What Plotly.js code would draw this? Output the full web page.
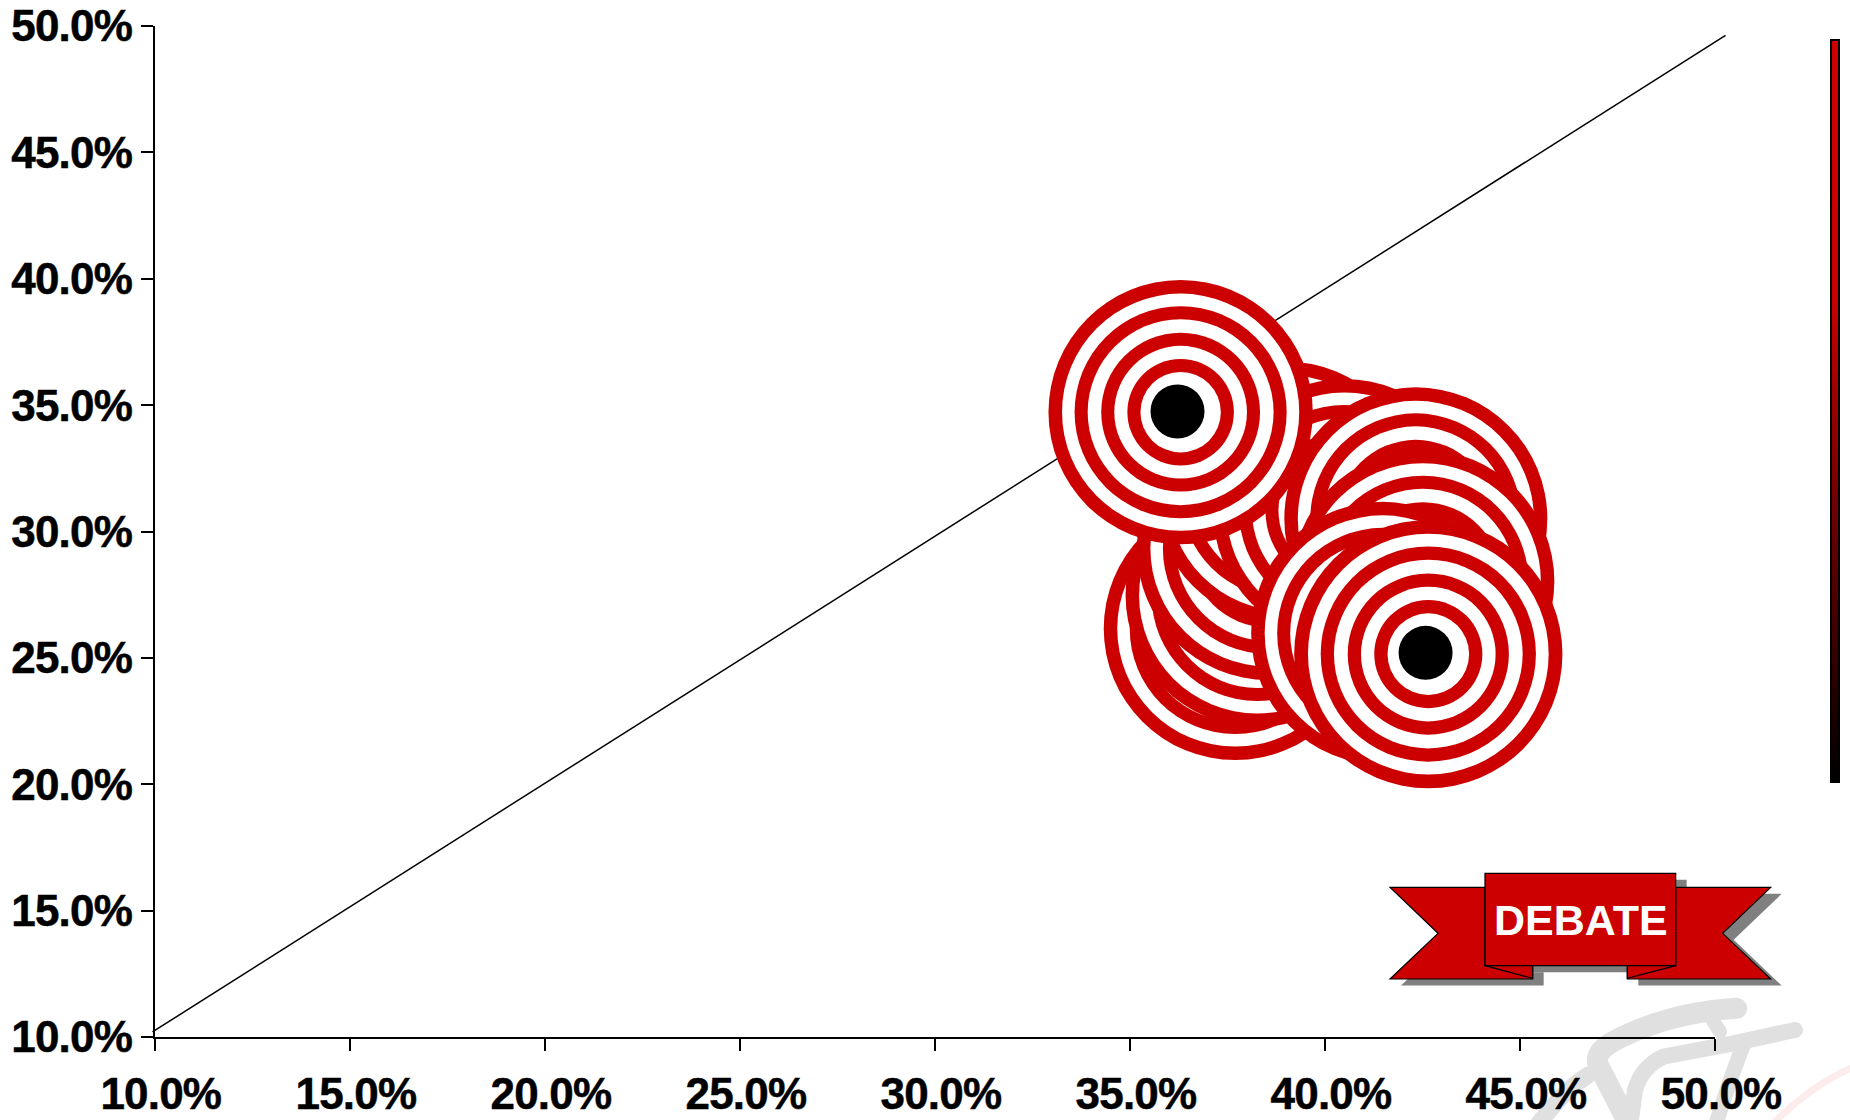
<!DOCTYPE html>
<html><head><meta charset="utf-8">
<script src="https://cdn.plot.ly/plotly-3.0.1.min.js"></script>
<style>
html,body{margin:0;padding:0;background:#fff}
#chart{width:1850px;height:1120px}
.xtick text,.ytick text,.x2tick text,.y2tick text{letter-spacing:-0.8px;stroke:#000;stroke-width:.5px}
.shapelayer path{stroke-linecap:round}
</style></head><body><div id="chart"></div>
<script>
const tickValues=[10,15,20,25,30,35,40,45,50];
const tickLabels=["10.0%","15.0%","20.0%","25.0%","30.0%","35.0%","40.0%","45.0%","50.0%"];
const parityX=[9.94,50.27];
const parityY=[10.2,49.63];
const trailX=[37.70,38.26,38.55,39.0,40.5,42.33,42.51,41.48];
const trailY=[26.16,27.47,29.33,31.52,30.83,30.50,28.03,25.97];
const endX=[42.65,36.3];
const endY=[25.15,34.72];
const endSizes=[1.02,1.005];
const dotX=[42.58,36.22];
const dotY=[25.2,34.75];
const ringDiameters=[263,236,211,185,158,132,106,80];
const ringColors=["#cc0000","#ffffff","#cc0000","#ffffff","#cc0000","#ffffff","#cc0000","#ffffff"];
const dotDiameter=54;
const RED="#cc0000";

const traces=[{x:parityX,y:parityY,mode:"lines",line:{color:"#000",width:1.5},hoverinfo:"skip"}];
function target(x,y,k){
  traces.push({x:ringDiameters.map(()=>x),y:ringDiameters.map(()=>y),xaxis:"x2",yaxis:"y2",mode:"markers",cliponaxis:false,hoverinfo:"skip",
    marker:{size:ringDiameters.map(d=>d*k),color:ringColors,line:{width:0},opacity:1}});
}
trailX.forEach((x,i)=>target(x,trailY[i],1));
endX.forEach((x,i)=>target(x,endY[i],endSizes[i]));
traces.push({x:dotX,y:dotY,xaxis:"x2",yaxis:"y2",mode:"markers",cliponaxis:false,hoverinfo:"skip",marker:{size:dotDiameter,color:"#000",line:{width:0}}});

const L=154.8,R=1715,T=26,B=1037;
const OL=140,OR=1740,OT=15,OB=1050;
const sx=(R-L)/40,sy=(B-T)/40;
const px=x=>(x-OL)/(OR-OL), py=y=>(OB-y)/(OB-OT);

traces.push({x:[10,10],y:[10,10],xaxis:"x2",yaxis:"y2",mode:"markers",hoverinfo:"skip",marker:{size:0.01,opacity:0,color:[0,1],cmin:0,cmax:1,showscale:true,
  colorscale:[[0,"#000000"],[0.25,"#4d0000"],[0.515,"#990000"],[0.65,"#c80000"],[1,"#cc0000"]],
  colorbar:{thicknessmode:"pixels",thickness:8,lenmode:"pixels",len:742,xref:"paper",yref:"paper",x:px(1831),xanchor:"left",y:py(411),yanchor:"middle",
    xpad:0,ypad:0,ticks:"",showticklabels:false,outlinecolor:"#000",outlinewidth:2,borderwidth:0}}});

const path=(pts)=>pts.map((p,i)=>(i?"L":"M")+px(p[0]).toFixed(5)+","+py(p[1]).toFixed(5)).join(" ")+" Z";
const Z=(x,y)=>[1370+x/3,850+y/3];
const bandL=[[60,112],[345,112],[345,347],[488,347],[488,387],[60,387],[204,250]].map(p=>Z(...p));
const bandR=[[1202,112],[917,112],[917,347],[772,347],[772,387],[1202,387],[1058,250]].map(p=>Z(...p));
const box=[[345,70],[917,70],[917,347],[345,347]].map(p=>Z(...p));
const foldL=[[345,347],[488,385],[488,347]].map(p=>Z(...p));
const foldR=[[917,347],[772,385],[772,347]].map(p=>Z(...p));
const off=a=>a.map(p=>[p[0]+11,p[1]+6.5]);
const sh=(pts,fill,line)=>({type:"path",xref:"paper",yref:"paper",path:path(pts),fillcolor:fill,line:line?{color:line,width:1.2}:{width:0},layer:"above"});
// watermark strokes, written in reference-crop coordinates
const cv=(s)=>s.replace(/(-?[\d.]+),(-?[\d.]+)/g,(m,a,b)=>px(1520+a/3).toFixed(5)+","+py(980+b/3).toFixed(5));
const wm=(d,w,c)=>({type:"path",xref:"paper",yref:"paper",path:cv(d),fillcolor:"rgba(0,0,0,0)",line:{color:c,width:w},layer:"below"});
const W="#e0e0e0";
const shapes=[
 wm("M 650,85 Q 430,100 270,190 Q 215,225 240,265 L 330,440",21,W),
 wm("M 825,150 L 640,190 L 430,230 Q 365,260 345,330 L 330,440",16,W),
 wm("M 670,195 Q 640,270 585,440",15,W),
 wm("M 205,285 Q 130,330 50,440",17,W),
 wm("M 580,125 L 600,155",14,W),
 wm("M 990,265 Q 870,320 760,430",7,"#fdecec"),
 sh(off(bandL),"#808080"),sh(off(bandR),"#808080"),sh(off(box),"#808080"),
 sh(bandL,RED,"#000"),sh(bandR,RED,"#000"),sh(box,RED,"#000"),sh(foldL,RED,"#000"),sh(foldR,RED,"#000"),
 {type:"rect",xref:"paper",yref:"paper",x0:px(1838),x1:px(1840),y0:py(39),y1:py(783),fillcolor:"#555",line:{width:0},layer:"above"}
];
const tickFont={family:"Liberation Sans, Arial, sans-serif",size:44,color:"#000",weight:700};
const axis={range:[10,50],tickmode:"array",tickvals:tickValues,ticktext:tickLabels,ticks:"outside",ticklen:12,tickwidth:2,tickcolor:"#000",
  showline:true,linecolor:"#000",linewidth:2,showgrid:false,zeroline:false,tickfont:tickFont,fixedrange:true};
const layout={width:1850,height:1120,margin:{l:OL,r:1850-OR,t:OT,b:1120-OB,pad:0,autoexpand:false},paper_bgcolor:"#fff",plot_bgcolor:"rgba(0,0,0,0)",showlegend:false,
  xaxis:{visible:false,range:[10+(OL-L)/sx,10+(OR-L)/sx],fixedrange:true},
  yaxis:{visible:false,range:[10-(OB-B)/sy,10+(B-OT)/sy],fixedrange:true},
  xaxis2:{...axis,anchor:"y2",domain:[px(L),px(R)],ticklabelshift:6,ticklabelstandoff:5},
  yaxis2:{...axis,anchor:"x2",domain:[py(B),py(T)],ticklabelstandoff:0},
  shapes,
  annotations:[{xref:"paper",yref:"paper",x:px(1580.5),y:py(920.5),text:"<b>DEBATE</b>",showarrow:false,xanchor:"center",yanchor:"middle",
    font:{family:"Liberation Sans, Arial, sans-serif",size:43,color:"#fff"}}]};
Plotly.newPlot("chart",traces,layout,{staticPlot:true,displayModeBar:false});
</script></body></html>
